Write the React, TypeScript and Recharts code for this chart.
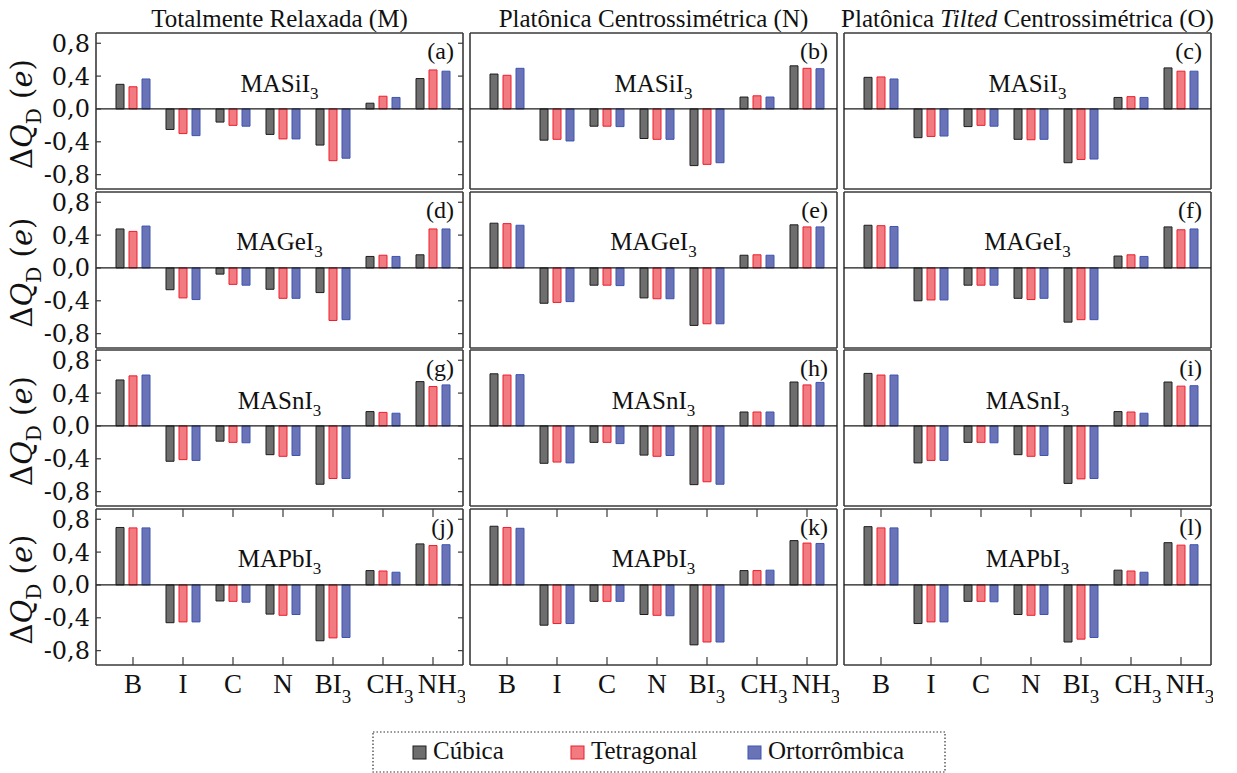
import { BarChart, Bar, XAxis, YAxis, CartesianGrid, ReferenceLine } from 'recharts'

const CATS = ['B', 'I', 'C', 'N', 'BI3', 'CH3', 'NH3']
const CAT_DX = [0, 0, 0, 0, 0, 7, 9]

// each panel: [cúbica, tetragonal, ortorrômbica]
const panelA = [
  [0.3, -0.25, -0.16, -0.31, -0.44, 0.07, 0.37],
  [0.27, -0.3, -0.2, -0.365, -0.63, 0.155, 0.475],
  [0.365, -0.325, -0.21, -0.365, -0.6, 0.14, 0.46],
]
const panelB = [
  [0.425, -0.38, -0.21, -0.36, -0.69, 0.145, 0.525],
  [0.41, -0.37, -0.21, -0.37, -0.675, 0.16, 0.495],
  [0.495, -0.39, -0.215, -0.37, -0.655, 0.145, 0.49],
]
const panelC = [
  [0.385, -0.35, -0.215, -0.37, -0.655, 0.14, 0.5],
  [0.39, -0.335, -0.2, -0.375, -0.615, 0.15, 0.46],
  [0.365, -0.33, -0.21, -0.37, -0.61, 0.14, 0.46],
]
const panelD = [
  [0.475, -0.265, -0.075, -0.26, -0.3, 0.14, 0.16],
  [0.445, -0.365, -0.2, -0.37, -0.64, 0.155, 0.475],
  [0.51, -0.385, -0.21, -0.37, -0.63, 0.14, 0.475],
]
const panelE = [
  [0.545, -0.43, -0.21, -0.365, -0.7, 0.155, 0.525],
  [0.54, -0.42, -0.21, -0.375, -0.68, 0.16, 0.5],
  [0.52, -0.41, -0.215, -0.375, -0.68, 0.155, 0.5],
]
const panelF = [
  [0.52, -0.4, -0.21, -0.37, -0.66, 0.145, 0.5],
  [0.515, -0.39, -0.21, -0.385, -0.63, 0.16, 0.465],
  [0.505, -0.39, -0.21, -0.37, -0.63, 0.14, 0.475],
]
const panelG = [
  [0.56, -0.43, -0.185, -0.35, -0.71, 0.175, 0.54],
  [0.61, -0.41, -0.2, -0.37, -0.64, 0.165, 0.48],
  [0.62, -0.42, -0.205, -0.36, -0.64, 0.155, 0.5],
]
const panelH = [
  [0.635, -0.455, -0.2, -0.355, -0.715, 0.17, 0.535],
  [0.62, -0.44, -0.2, -0.37, -0.68, 0.17, 0.5],
  [0.625, -0.45, -0.215, -0.36, -0.71, 0.17, 0.53],
]
const panelI = [
  [0.64, -0.45, -0.2, -0.35, -0.7, 0.175, 0.535],
  [0.62, -0.42, -0.2, -0.37, -0.645, 0.17, 0.485],
  [0.62, -0.42, -0.205, -0.36, -0.64, 0.155, 0.49],
]
const panelJ = [
  [0.7, -0.46, -0.195, -0.355, -0.68, 0.175, 0.5],
  [0.695, -0.45, -0.2, -0.37, -0.645, 0.17, 0.48],
  [0.695, -0.45, -0.21, -0.36, -0.64, 0.155, 0.49],
]
const panelK = [
  [0.715, -0.49, -0.2, -0.36, -0.73, 0.175, 0.54],
  [0.7, -0.47, -0.2, -0.37, -0.695, 0.175, 0.51],
  [0.69, -0.47, -0.2, -0.375, -0.695, 0.18, 0.505],
]
const panelL = [
  [0.71, -0.47, -0.2, -0.36, -0.695, 0.18, 0.515],
  [0.695, -0.45, -0.2, -0.37, -0.66, 0.17, 0.485],
  [0.695, -0.45, -0.205, -0.36, -0.64, 0.155, 0.49],
]

const PANELS = [
  [panelA, panelB, panelC],
  [panelD, panelE, panelF],
  [panelG, panelH, panelI],
  [panelJ, panelK, panelL],
]
const LETTERS = [['a', 'b', 'c'], ['d', 'e', 'f'], ['g', 'h', 'i'], ['j', 'k', 'l']]
const COMPOUNDS = ['MASiI', 'MAGeI', 'MASnI', 'MAPbI']
const COL_TITLES = ['Totalmente Relaxada (M)', 'Platônica Centrossimétrica (N)', 'Platônica Tilted Centrossimétrica (O)']

const SERIES = [
  { key: 'cub', name: 'Cúbica', fill: '#6e6e6e', stroke: '#1e1e1e' },
  { key: 'tet', name: 'Tetragonal', fill: '#f27a81', stroke: '#ee1f2d' },
  { key: 'ort', name: 'Ortorrômbica', fill: '#6b73b7', stroke: '#3c55b4' },
]

const Y_TICKS = [-0.8, -0.6, -0.4, -0.2, 0, 0.2, 0.4, 0.6, 0.8]
const Y_DOMAIN = [-0.975, 0.925]

const FONT = '"Liberation Serif", "Times New Roman", serif'
const NUM_FONT = '"DejaVu Serif", "Liberation Serif", serif'
const PLOT_W = 367
const PLOT_H = 156
const COL_X = [96, 470, 844]
const ROW_Y = [33, 191.5, 350, 508.5]
const PAD = 2
const PAD_TOP = 16
const FRAME = '#3a3a3a'

function YTick(props: any) {
  const { x, y, payload, showLabel } = props
  const v = payload.value
  const major = Math.round(v * 10) % 4 === 0
  return (
    <g>
      <line x1={x} y1={y} x2={x + 5} y2={y} stroke={FRAME} strokeWidth={1.2} />
      <line x1={x + PLOT_W} y1={y} x2={x + PLOT_W - 5} y2={y} stroke={FRAME} strokeWidth={1.2} />
      {showLabel && major && (
        <text x={x - 6} y={y + 8.5} textAnchor="end" fontFamily={NUM_FONT} fontSize={24} fill="#111">
          {v.toFixed(1).replace('.', ',')}
        </text>
      )}
    </g>
  )
}

function XTick(props: any) {
  const { x, y, payload, index, showLabel } = props
  const v: string = payload.value
  const main = v.replace(/3$/, '')
  const sub = v.endsWith('3') ? '3' : ''
  return (
    <g>
      <line x1={x} y1={y} x2={x} y2={y - 8} stroke={FRAME} strokeWidth={1.2} />
      <line x1={x} y1={y - PLOT_H} x2={x} y2={y - PLOT_H + 8} stroke={FRAME} strokeWidth={1.2} />
      {showLabel && (
        <text x={x + (CAT_DX[index] || 0)} y={y + 28} textAnchor="middle" fontFamily={FONT} fontSize={27} fill="#111">
          {main}
          {sub && (
            <tspan dy={10} fontSize={19}>
              {sub}
            </tspan>
          )}
        </text>
      )}
    </g>
  )
}

function Panel({ row, col }: { row: number; col: number }) {
  const vals = PANELS[row][col]
  const data = CATS.map((cat, i) => ({ cat, cub: vals[0][i], tet: vals[1][i], ort: vals[2][i] }))
  const yw = col === 0 ? COL_X[0] : 0
  const ml = col === 0 ? 0 : PAD
  const xh = row === 3 ? 46 : 0
  const w = ml + yw + PLOT_W + PAD
  const h = PAD_TOP + PLOT_H + xh + PAD
  return (
    <div style={{ position: 'absolute', left: COL_X[col] - yw - ml, top: ROW_Y[row] - PAD_TOP }}>
      <BarChart
        width={w}
        height={h}
        data={data}
        margin={{ top: PAD_TOP, right: PAD, bottom: PAD, left: ml }}
        barSize={8}
        barGap={5}
      >
        <CartesianGrid
          stroke={FRAME}
          strokeWidth={1.6}
          horizontalCoordinatesGenerator={({ offset }: any) => [offset.top, offset.top + offset.height]}
          verticalCoordinatesGenerator={({ offset }: any) => [offset.left, offset.left + offset.width]}
        />
        <XAxis
          dataKey="cat"
          interval={0}
          height={xh}
          tickSize={0}
          tickMargin={0}
          axisLine={false}
          tickLine={false}
          padding={{ left: 12, right: 5 }}
          tick={<XTick showLabel={row === 3} />}
        />
        <YAxis
          type="number"
          domain={Y_DOMAIN}
          allowDataOverflow
          ticks={Y_TICKS}
          width={yw}
          tickSize={0}
          tickMargin={0}
          axisLine={false}
          tickLine={false}
          tick={<YTick showLabel={col === 0} />}
        />
        {SERIES.map((s) => (
          <Bar
            key={s.key}
            dataKey={s.key}
            fill={s.fill}
            stroke={s.stroke}
            strokeWidth={1}
            isAnimationActive={false}
          />
        ))}
        <ReferenceLine y={0} stroke="#1a1a1a" strokeWidth={1.3} />
      </BarChart>
    </div>
  )
}

function Overlay() {
  const legendX = [413, 571, 748]
  return (
    <svg
      width={1237}
      height={773}
      style={{ position: 'absolute', left: 0, top: 0, pointerEvents: 'none' }}
      fontFamily={FONT}
      fill="#111"
    >
      {COL_TITLES.map((t, c) => {
        const cx = COL_X[c] + PLOT_W / 2
        if (t.includes('Tilted')) {
          const [a, b] = t.split('Tilted')
          return (
            <text key={t} x={cx} y={27} textAnchor="middle" fontSize={25}>
              {a}
              <tspan fontStyle="italic">Tilted</tspan>
              {b}
            </text>
          )
        }
        return (
          <text key={t} x={cx} y={27} textAnchor="middle" fontSize={25}>
            {t}
          </text>
        )
      })}
      {ROW_Y.map((ry, r) => (
        <g key={r}>
          <text
            transform={`translate(32, ${ry + PLOT_H / 2 + 3}) rotate(-90)`}
            textAnchor="middle"
            fontFamily={NUM_FONT}
            fontSize={29}
          >
            Δ<tspan fontStyle="italic">Q</tspan>
            <tspan dy={9} fontSize={20}>D</tspan>
            <tspan dy={-9}> (</tspan>
            <tspan fontStyle="italic">e</tspan>)
          </text>
          {COL_X.map((cx, c) => (
            <g key={c}>
              <text x={cx + PLOT_W / 2} y={ry + 58.5} textAnchor="middle" fontSize={25}>
                {COMPOUNDS[r]}
                <tspan dy={7} fontSize={17}>3</tspan>
              </text>
              <text x={cx + PLOT_W - 9} y={ry + 26} textAnchor="end" fontSize={24}>
                ({LETTERS[r][c]})
              </text>
            </g>
          ))}
        </g>
      ))}
      <rect x={373} y={732} width={572} height={40} fill="none" stroke="#333" strokeWidth={1.2} strokeDasharray="1.5 2" />
      {SERIES.map((s, i) => (
        <g key={s.key}>
          <rect x={legendX[i]} y={746} width={13} height={13} fill={s.fill} stroke={s.stroke} strokeWidth={1} />
          <text x={legendX[i] + 20} y={759} fontSize={25}>
            {s.name}
          </text>
        </g>
      ))}
    </svg>
  )
}

export default function App() {
  return (
    <div style={{ position: 'absolute', left: 0, top: 0, width: 1237, height: 773, background: '#fff' }}>
      {ROW_Y.map((_, r) => COL_X.map((_, c) => <Panel key={`${r}-${c}`} row={r} col={c} />))}
      <Overlay />
    </div>
  )
}
